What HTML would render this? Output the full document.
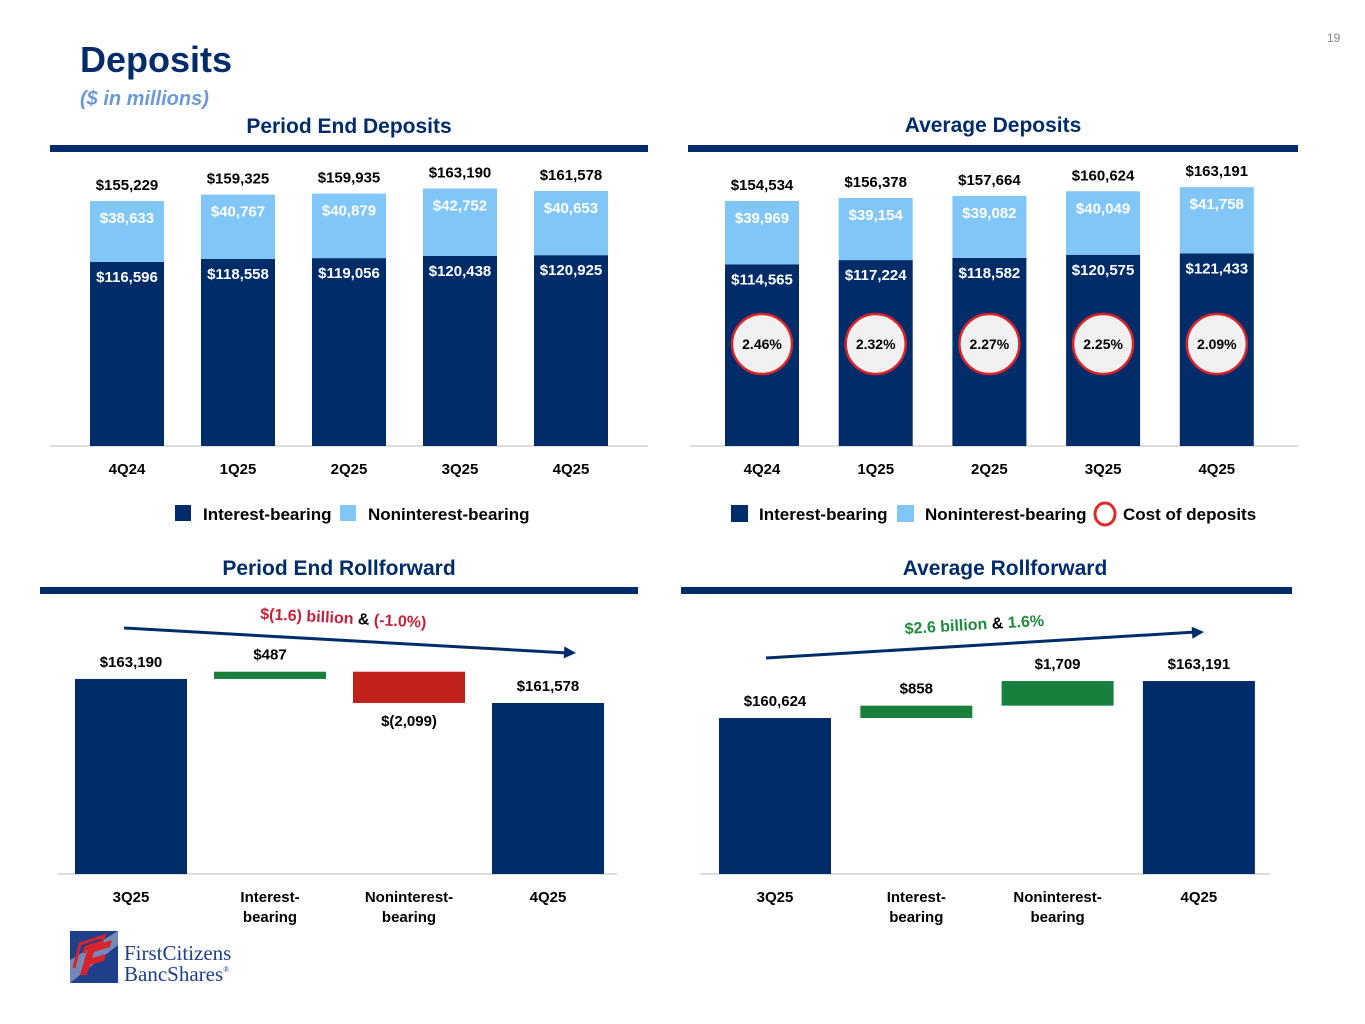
<!DOCTYPE html>
<html><head><meta charset="utf-8">
<style>
html,body{margin:0;padding:0;background:#fff;}
svg{display:block;font-family:"Liberation Sans",Arial,sans-serif;}
</style></head>
<body>
<svg id="s" width="1365" height="1024" viewBox="0 0 1365 1024" xmlns="http://www.w3.org/2000/svg">
<text x="1327" y="42" font-size="12" fill="#888">19</text>
<text x="80" y="72" font-size="36" font-weight="bold" fill="#002D6A">Deposits</text>
<text x="80" y="105" font-size="20" font-weight="bold" font-style="italic" fill="#6B9BD6">($ in millions)</text>
<text x="349" y="133" font-size="21" font-weight="bold" fill="#002D6A" text-anchor="middle">Period End Deposits</text>
<rect x="50" y="145" width="598" height="7" fill="#002D6A"/>
<text x="993" y="132" font-size="21" font-weight="bold" fill="#002D6A" text-anchor="middle">Average Deposits</text>
<rect x="688" y="145" width="610" height="7" fill="#002D6A"/>
<text x="339" y="575" font-size="21" font-weight="bold" fill="#002D6A" text-anchor="middle">Period End Rollforward</text>
<rect x="40" y="587" width="598" height="7" fill="#002D6A"/>
<text x="1005" y="575" font-size="21" font-weight="bold" fill="#002D6A" text-anchor="middle">Average Rollforward</text>
<rect x="681" y="587" width="611" height="7" fill="#002D6A"/>

<g font-size="17" font-weight="bold">
<rect x="175" y="505" width="16" height="16" fill="#002D6A"/>
<text x="203" y="520">Interest-bearing</text>
<rect x="340" y="505" width="16" height="16" fill="#80C6F7"/>
<text x="368" y="520">Noninterest-bearing</text>
</g>
<g font-size="17" font-weight="bold">
<rect x="731" y="505" width="17" height="17" fill="#002D6A"/>
<text x="759" y="520">Interest-bearing</text>
<rect x="897" y="505" width="17" height="17" fill="#80C6F7"/>
<text x="925" y="520">Noninterest-bearing</text>
<ellipse cx="1105" cy="514" rx="10" ry="11" fill="none" stroke="#E02828" stroke-width="3"/>
<text x="1123" y="520">Cost of deposits</text>
</g>

<g>
<rect x="70" y="931" width="48" height="52" fill="#1F3F8A"/>
<polygon points="70,983 70,960 118,931 118,945" fill="#C8D4EA" opacity="0.5"/>
<path d="M80 975 L88 948 L112 940 L110 947 L94 952 L92 958 L106 954 L104 961 L90 965 L87 975 Z" fill="#D8232A"/>
<path d="M74 968 L80 944 L104 936 L102 942 L86 947 L84 953" fill="none" stroke="#D8232A" stroke-width="3"/>
<text x="124" y="960" font-family="Liberation Serif,serif" font-size="21" fill="#1F3F8A">FirstCitizens</text>
<text x="124" y="981" font-family="Liberation Serif,serif" font-size="21" fill="#1F3F8A">BancShares<tspan font-size="8" dy="-9">®</tspan></text>
</g>
<g id="charts"></g>
</svg>
<script>
// Period end deposits
const peCategories = ["4Q24","1Q25","2Q25","3Q25","4Q25"];
const peInterest = [116596,118558,119056,120438,120925];
const peNoninterest = [38633,40767,40879,42752,40653];
const peTotals = ["$155,229","$159,325","$159,935","$163,190","$161,578"];
// Average deposits
const avCategories = ["4Q24","1Q25","2Q25","3Q25","4Q25"];
const avInterest = [114565,117224,118582,120575,121433];
const avNoninterest = [39969,39154,39082,40049,41758];
const avTotals = ["$154,534","$156,378","$157,664","$160,624","$163,191"];
const avCost = ["2.46%","2.32%","2.27%","2.25%","2.09%"];
// Rollforwards
const rfCategories = ["3Q25","Interest-|bearing","Noninterest-|bearing","4Q25"];
const peRoll = [163190,487,-2099,161578];
const peRollLabels = ["$163,190","$487","$(2,099)","$161,578"];
const avRoll = [160624,858,1709,163191];
const avRollLabels = ["$160,624","$858","$1,709","$163,191"];

const NS="http://www.w3.org/2000/svg";
const root=document.getElementById('charts');
function mk(tag,attrs,parent,txt){const e=document.createElementNS(NS,tag);for(const k in attrs)e.setAttribute(k,attrs[k]);if(txt!==undefined)e.textContent=txt;(parent||root).appendChild(e);return e;}
function fmt(v){return "$"+v.toLocaleString("en-US");}

function stacked(cfg){
  const g=mk('g',{});
  
  
  const y=v=>cfg.base-v*cfg.k;
  const x=i=>cfg.x0+i*cfg.step;
  mk('line',{x1:cfg.ax0,x2:cfg.ax1,y1:cfg.base,y2:cfg.base,stroke:'#bbb','stroke-width':1},g);
  cfg.cats.forEach((c,i)=>{
    const cx=x(i),w=74,ti=y(cfg.ib[i]),tt=y(cfg.ib[i]+cfg.nb[i]);
    const r1=mk('rect',{x:cx-w/2,y:ti,width:w,height:cfg.base-ti,fill:'#002D6A'},g);
    
    
    const r2=mk('rect',{x:cx-w/2,y:tt,width:w,height:ti-tt,fill:'#80C6F7'},g);
    
    
    const l1=mk('text',{x:cx,y:ti+20,'text-anchor':'middle','font-size':15,'font-weight':'bold',fill:'#fff'},g,fmt(cfg.ib[i]));
    
    
    const l2=mk('text',{x:cx,y:tt+22,'text-anchor':'middle','font-size':15,'font-weight':'bold',fill:'#fff'},g,fmt(cfg.nb[i]));
    
    
    const l3=mk('text',{x:cx,y:tt-11,'text-anchor':'middle','font-size':15,'font-weight':'bold',fill:'#000'},g,cfg.tot[i]);
    
    
    const l4=mk('text',{x:cx,y:cfg.base+28,'text-anchor':'middle','font-size':15,'font-weight':'bold',fill:'#000'},g,c);
    
    
    if(cfg.cost){
      const ci=mk('circle',{cx:cx,cy:344,r:30,fill:'#F1F1F1',stroke:'#D8232A','stroke-width':2.5},g);
      
      
      const ct=mk('text',{x:cx,y:349,'text-anchor':'middle','font-size':14,'font-weight':'bold',fill:'#000'},g,cfg.cost[i]);
      
      
    }
  });
}
stacked({name:'period-end-deposits-chart',cats:peCategories,ib:peInterest,nb:peNoninterest,tot:peTotals,base:446,k:0.001578,x0:127,step:111,ax0:50,ax1:648});
stacked({name:'average-deposits-chart',cats:avCategories,ib:avInterest,nb:avNoninterest,tot:avTotals,cost:avCost,base:446,k:0.001586,x0:762,step:113.7,ax0:690,ax1:1298});

function waterfall(cfg){
  const g=mk('g',{});
  
  
  const y=v=>cfg.base-(v-cfg.min)*cfg.k;
  const x=i=>cfg.x0+i*cfg.step;
  mk('line',{x1:cfg.ax0,x2:cfg.ax1,y1:cfg.base,y2:cfg.base,stroke:'#bbb','stroke-width':1},g);
  let run=cfg.vals[0];
  cfg.vals.forEach((v,i)=>{
    const cx=x(i),w=112;let top,bot,fill,lab,ly;
    if(i===0||i===cfg.vals.length-1){top=y(v);bot=cfg.base;fill='#002D6A';ly=top-12;}
    else{const a=y(run),b=y(run+v);top=Math.min(a,b);bot=Math.max(a,b);fill=v>=0?'#16803C':'#C0221B';run+=v;ly=v>=0?top-12:bot+23;}
    const r=mk('rect',{x:cx-w/2,y:top,width:w,height:Math.max(bot-top,1),fill:fill},g);
    
    
    const t=mk('text',{x:cx,y:ly,'text-anchor':'middle','font-size':15,'font-weight':'bold',fill:'#000'},g,cfg.labs[i]);
    
    
    rfCategories[i].split('|').forEach((p,j)=>{
      const tk=mk('text',{x:cx,y:cfg.base+28+j*20,'text-anchor':'middle','font-size':15,'font-weight':'bold',fill:'#000'},g,p);
      
      
    });
  });
  const ar=mk('g',{},g);
  
  
  mk('line',{x1:cfg.arr[0],y1:cfg.arr[1],x2:cfg.arr[2]-8,y2:cfg.arr[3],stroke:'#002D6A','stroke-width':3},ar);
  const [x2,y2]=[cfg.arr[2],cfg.arr[3]];
  mk('polygon',{points:`${x2},${y2} ${x2-12},${y2-6} ${x2-12},${y2+6}`,fill:'#002D6A',transform:`rotate(${cfg.ang} ${x2} ${y2})`},ar);
  const tx=mk('text',{x:cfg.tx,y:cfg.ty,'font-size':16,'font-weight':'bold',fill:cfg.col,transform:`rotate(${cfg.ang} ${cfg.tx} ${cfg.ty})`},g);
  
  
  mk('tspan',{},tx,cfg.t1);
  mk('tspan',{fill:'#000'},tx,' & ');
  mk('tspan',{},tx,cfg.t2);
}
waterfall({name:'period-end-rollforward-chart',vals:peRoll,labs:peRollLabels,base:874,min:150100,k:0.0149,x0:131,step:139,ax0:58,ax1:617,arr:[124,628,576,653],ang:3,tx:260,ty:619,col:'#C8203A',t1:'$(1.6) billion',t2:'(-1.0%)'});
waterfall({name:'average-rollforward-chart',vals:avRoll,labs:avRollLabels,base:874,min:149800,k:0.01441,x0:775,step:141.3,ax0:700,ax1:1270,arr:[766,658,1204,632],ang:-3.4,tx:905,ty:634,col:'#1E8C3E',t1:'$2.6 billion',t2:'1.6%'});
</script>
</body></html>
